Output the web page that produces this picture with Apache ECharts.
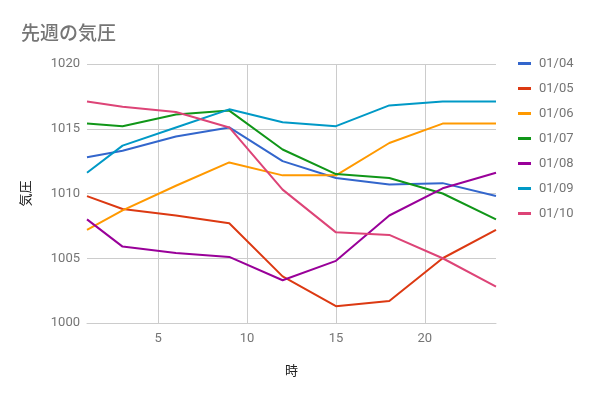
<!DOCTYPE html>
<html>
<head>
<meta charset="utf-8">
<script src="https://cdn.jsdelivr.net/npm/echarts@6/dist/echarts.min.js"></script>
<style>
  html, body { margin: 0; padding: 0; background: #fff; }
  #chart { width: 591px; height: 397px; }
</style>
</head>
<body>
<div id="chart"></div>
<script>
const title = '先週の気圧'
const hours = [1, 3, 6, 9, 12, 15, 18, 21, 24]
const xTicks = [5, 10, 15, 20]
const dayNames = ['01/04', '01/05', '01/06', '01/07', '01/08', '01/09', '01/10']
const d0104 = [1012.8, 1013.3, 1014.4, 1015.1, 1012.5, 1011.2, 1010.7, 1010.8, 1009.8]
const d0105 = [1009.8, 1008.8, 1008.3, 1007.7, 1003.6, 1001.3, 1001.7, 1005.0, 1007.2]
const d0106 = [1007.2, 1008.7, 1010.6, 1012.4, 1011.4, 1011.4, 1013.9, 1015.4, 1015.4]
const d0107 = [1015.4, 1015.2, 1016.1, 1016.4, 1013.4, 1011.5, 1011.2, 1010.0, 1008.0]
const d0108 = [1008.0, 1005.9, 1005.4, 1005.1, 1003.3, 1004.8, 1008.3, 1010.4, 1011.6]
const d0109 = [1011.6, 1013.7, 1015.1, 1016.5, 1015.5, 1015.2, 1016.8, 1017.1, 1017.1]
const d0110 = [1017.1, 1016.7, 1016.3, 1015.1, 1010.3, 1007.0, 1006.8, 1005.0, 1002.8]
const allData = [d0104, d0105, d0106, d0107, d0108, d0109, d0110]
const colors = ['#3366cc', '#dc3912', '#ff9900', '#109618', '#990099', '#0099c6', '#dd4477']

const labelColor = '#757575'
const gridColor = '#cccccc'
const fontFamily = 'Roboto, "Noto Sans CJK JP", sans-serif'

const chart = echarts.init(document.getElementById('chart'))

const seriesData = dayNames.map((name, i) => ({
  name: name,
  type: 'line',
  data: hours.map((h, j) => [h, allData[i][j]]),
  showSymbol: false,
  symbol: 'none',
  lineStyle: { width: 2 },
  color: colors[i],
}))

chart.setOption({
  animation: false,
  textStyle: { fontFamily: fontFamily },
  title: {
    text: title,
    left: 16,
    top: 18,
    textStyle: {
      color: labelColor,
      fontSize: 19,
      fontWeight: 500,
      fontFamily: '"Noto Sans CJK JP", sans-serif',
    },
  },
  legend: {
    orient: 'vertical',
    left: 518,
    top: 57,
    padding: 0,
    itemWidth: 13,
    itemHeight: 3,
    itemGap: 12,
    icon: 'rect',
    textStyle: { color: labelColor, fontSize: 13, fontFamily: 'Roboto', padding: [0, 0, 0, 3] },
  },
  grid: {
    left: 87,
    right: 95,
    top: 64,
    bottom: 74,
  },
  xAxis: {
    type: 'value',
    min: 1,
    max: 24,
    name: '時',
    nameLocation: 'middle',
    nameGap: 41,
    nameTextStyle: { color: '#222', fontSize: 13, fontFamily: '"Noto Sans CJK JP"' },
    axisLine: { lineStyle: { color: gridColor } },
    axisTick: { show: false, customValues: xTicks },
    axisLabel: { customValues: xTicks, color: labelColor, fontSize: 13, margin: 9 },
    splitLine: { lineStyle: { color: gridColor } },
  },
  yAxis: {
    type: 'value',
    min: 1000,
    max: 1020,
    interval: 5,
    name: '気圧',
    nameLocation: 'middle',
    nameGap: 55,
    nameTextStyle: { color: '#222', fontSize: 13, fontFamily: '"Noto Sans CJK JP"', padding: [0, 0, 0, 0] },
    axisLine: { show: false },
    axisTick: { show: false },
    axisLabel: {
      color: labelColor,
      fontSize: 13,
      margin: 7,
      formatter: value => String(value),
    },
    splitLine: { lineStyle: { color: gridColor } },
  },
  series: seriesData,
})
</script>
</body>
</html>
